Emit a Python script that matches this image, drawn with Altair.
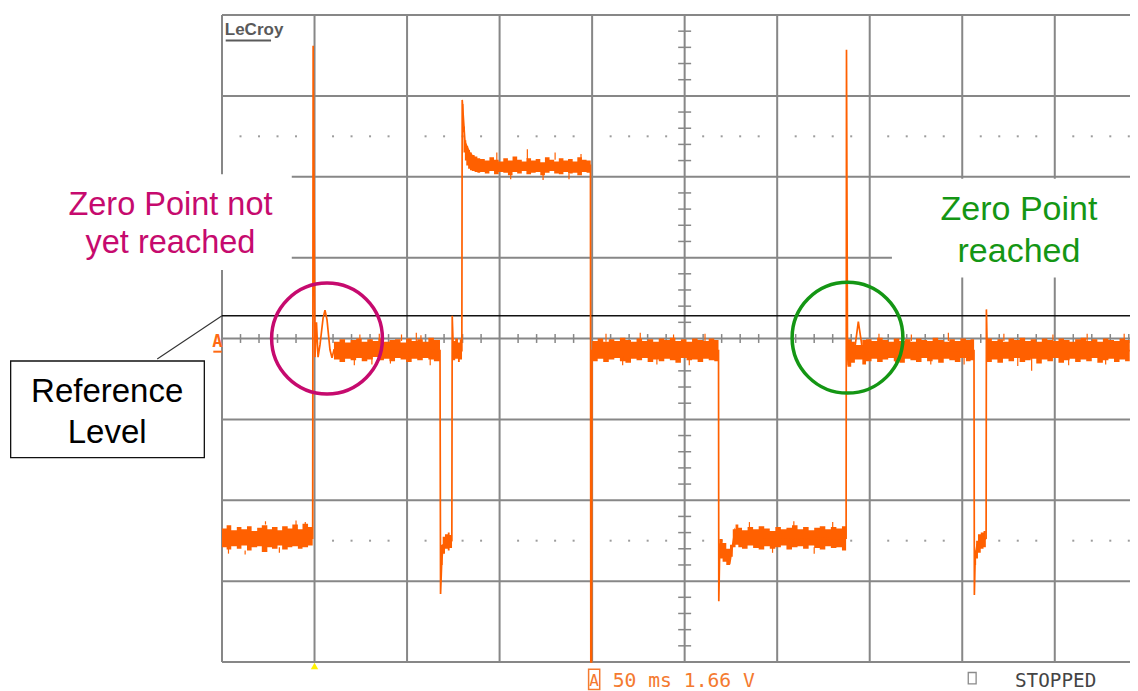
import altair as alt
import numpy as np
import pandas as pd

# ---------------- data (x: divisions of 50 ms, y: divisions of 1.66 V) ----------------
X_MAX = 9.813

# thin trace (edges, spikes, ringing)
TRACE_X = [0.00, 0.980, 0.985, 1.005, 1.021, 1.038, 1.059, 1.092, 1.113, 1.135, 1.167, 1.189, 1.21,
           2.356, 2.362, 2.375, 2.39, 2.484, 2.488, 2.50, 2.592, 2.596, 2.626, 2.68, 2.753, 2.82,
           3.982, 3.986, 3.994, 3.999, 5.366, 5.369, 5.38, 5.436, 5.49, 5.544, 5.598, 6.745, 6.749,
           6.76, 6.77, 6.80, 6.83, 6.877, 6.914, 6.947, 6.98, 8.127, 8.131, 8.14, 8.16, 8.258, 8.261,
           8.27, 9.81]
TRACE_Y = [-2.47, -2.47, 3.62, -0.23, 0.20, -0.23, -0.08, 0.25, 0.35, 0.23, -0.14, -0.24, -0.14,
           -0.15, -3.16, -2.75, -2.55, -2.50, 0.28, -0.15, -0.15, 2.95, 2.43, 2.29, 2.21, 2.14,
           2.14, -4.0, -4.0, -0.15, -0.15, -3.25, -2.55, -2.62, -2.76, -2.37, -2.49, -2.47, 3.57,
           -0.20, -0.33, -0.08, -0.20, 0.21, -0.08, -0.27, -0.14, -0.15, -3.17, -2.70, -2.55, -2.47,
           0.36, -0.15, -0.15]

# noisy bands (top / bottom envelope)
LOW1_X = [0.00, 0.05, 0.10, 0.16, 0.21, 0.27, 0.32, 0.38, 0.43, 0.49, 0.54, 0.60, 0.65, 0.71, 0.76, 0.82, 0.87, 0.93, 0.98]
LOW1_TOP = [-2.35, -2.31, -2.37, -2.33, -2.36, -2.32, -2.38, -2.34, -2.31, -2.36, -2.33, -2.37, -2.32, -2.35, -2.30, -2.36, -2.29, -2.33, -2.33]
LOW1_BOT = [-2.58, -2.61, -2.57, -2.60, -2.56, -2.62, -2.58, -2.57, -2.64, -2.58, -2.60, -2.56, -2.61, -2.58, -2.57, -2.60, -2.58, -2.56, -2.56]

ZERO1_X = [1.21, 1.27, 1.33, 1.39, 1.45, 1.51, 1.57, 1.63, 1.69, 1.75, 1.81, 1.87, 1.93, 1.99, 2.05, 2.11, 2.17, 2.23, 2.29, 2.356]
ZERO1_TOP = [-0.04, -0.01, -0.05, -0.02, 0.00, -0.04, -0.01, -0.03, 0.00, -0.04, -0.02, -0.01, -0.05, 0.00, -0.03, -0.01, -0.04, 0.01, -0.02, -0.02]
ZERO1_BOT = [-0.26, -0.29, -0.25, -0.27, -0.24, -0.28, -0.26, -0.23, -0.27, -0.25, -0.28, -0.24, -0.26, -0.29, -0.25, -0.27, -0.24, -0.26, -0.28, -0.28]

SLOW1_X = [2.367, 2.385, 2.41, 2.44, 2.46, 2.486]
SLOW1_TOP = [-2.55, -2.45, -2.42, -2.40, -2.43, -2.43]
SLOW1_BOT = [-2.80, -2.66, -2.60, -2.62, -2.59, -2.59]

SZERO1_X = [2.49, 2.52, 2.55, 2.57, 2.594]
SZERO1_TOP = [-0.03, 0.0, -0.05, -0.01, -0.01]
SZERO1_BOT = [-0.27, -0.25, -0.29, -0.26, -0.26]

HIGH_X = [2.597, 2.61, 2.625, 2.64, 2.66, 2.68, 2.70, 2.73, 2.76, 2.79, 2.84, 2.89, 2.94, 2.99, 3.04, 3.09, 3.14,
          3.19, 3.24, 3.29, 3.34, 3.39, 3.44, 3.49, 3.54, 3.59, 3.64, 3.69, 3.74, 3.79, 3.84, 3.89, 3.94, 3.985]
HIGH_TOP = [2.90, 2.62, 2.45, 2.38, 2.33, 2.30, 2.27, 2.25, 2.23, 2.22, 2.20, 2.24, 2.21, 2.19, 2.23, 2.20, 2.25,
            2.21, 2.19, 2.23, 2.20, 2.22, 2.18, 2.24, 2.21, 2.19, 2.23, 2.20, 2.22, 2.19, 2.24, 2.21, 2.20, 2.20]
HIGH_BOT = [2.55, 2.30, 2.20, 2.14, 2.10, 2.08, 2.07, 2.06, 2.05, 2.06, 2.04, 2.07, 2.03, 2.06, 2.05, 2.02, 2.06,
            2.04, 2.07, 2.03, 2.05, 2.06, 2.02, 2.05, 2.07, 2.04, 2.03, 2.06, 2.04, 2.05, 2.02, 2.06, 2.05, 2.05]

ZERO2_X = [4.00, 4.06, 4.12, 4.18, 4.24, 4.30, 4.36, 4.42, 4.48, 4.54, 4.60, 4.66, 4.72, 4.78, 4.84, 4.90, 4.96,
           5.02, 5.08, 5.14, 5.20, 5.26, 5.32, 5.366]
ZERO2_TOP = [-0.03, 0.00, -0.04, -0.01, -0.03, 0.01, -0.02, -0.04, 0.00, -0.03, -0.01, -0.04, 0.00, -0.02,
             0.01, -0.03, -0.01, -0.04, 0.00, -0.02, -0.03, 0.00, -0.02, -0.02]
ZERO2_BOT = [-0.28, -0.25, -0.29, -0.26, -0.24, -0.28, -0.30, -0.25, -0.27, -0.24, -0.29, -0.26, -0.28, -0.25,
             -0.27, -0.30, -0.24, -0.27, -0.26, -0.29, -0.25, -0.27, -0.28, -0.28]

LOW2_X = [5.375, 5.41, 5.45, 5.49, 5.52, 5.55, 5.58, 5.62, 5.68, 5.74, 5.80, 5.86, 5.92, 5.98, 6.04, 6.10, 6.16,
          6.22, 6.28, 6.34, 6.40, 6.46, 6.52, 6.58, 6.64, 6.70, 6.745]
LOW2_TOP = [-2.48, -2.53, -2.60, -2.55, -2.36, -2.30, -2.34, -2.37, -2.33, -2.36, -2.32, -2.35, -2.38, -2.33,
            -2.36, -2.34, -2.31, -2.36, -2.33, -2.37, -2.34, -2.32, -2.36, -2.33, -2.35, -2.32, -2.32]
LOW2_BOT = [-2.72, -2.76, -2.80, -2.70, -2.58, -2.55, -2.58, -2.60, -2.56, -2.59, -2.61, -2.57, -2.60, -2.58,
            -2.56, -2.61, -2.58, -2.57, -2.60, -2.56, -2.59, -2.61, -2.57, -2.59, -2.58, -2.62, -2.62]

ZERO3_X = [6.76, 6.80, 6.84, 6.92, 6.96, 7.02, 7.08, 7.14, 7.20, 7.26, 7.32, 7.38, 7.44, 7.50, 7.56, 7.62, 7.68,
           7.74, 7.80, 7.86, 7.92, 7.98, 8.04, 8.09, 8.128]
ZERO3_TOP = [-0.01, -0.04, -0.08, -0.02, -0.01, -0.03, 0.01, -0.02, -0.04, 0.00, -0.03, -0.01, -0.04, 0.00,
             -0.02, -0.03, 0.01, -0.02, -0.04, -0.01, -0.03, 0.00, -0.02, -0.01, -0.01]
ZERO3_BOT = [-0.35, -0.30, -0.26, -0.32, -0.28, -0.25, -0.29, -0.26, -0.24, -0.28, -0.30, -0.25, -0.27, -0.29,
             -0.24, -0.28, -0.26, -0.30, -0.25, -0.27, -0.29, -0.24, -0.28, -0.27, -0.27]

SLOW2_X = [8.135, 8.15, 8.17, 8.20, 8.23, 8.255]
SLOW2_TOP = [-2.62, -2.50, -2.42, -2.40, -2.38, -2.38]
SLOW2_BOT = [-2.80, -2.72, -2.65, -2.60, -2.58, -2.58]

ZERO4_X = [8.265, 8.32, 8.38, 8.44, 8.50, 8.56, 8.62, 8.68, 8.74, 8.80, 8.86, 8.92, 8.98, 9.04, 9.10, 9.16, 9.22,
           9.28, 9.34, 9.40, 9.46, 9.52, 9.58, 9.64, 9.70, 9.76, 9.81]
ZERO4_TOP = [0.00, -0.03, -0.01, -0.04, 0.00, -0.02, 0.01, -0.03, -0.01, -0.04, 0.00, -0.02, -0.03, 0.00,
             -0.02, -0.04, -0.01, 0.01, -0.03, -0.01, -0.04, 0.00, -0.02, -0.03, 0.00, -0.02, -0.02]
ZERO4_BOT = [-0.29, -0.26, -0.30, -0.25, -0.28, -0.24, -0.29, -0.27, -0.25, -0.31, -0.26, -0.28, -0.24, -0.30,
             -0.27, -0.25, -0.29, -0.26, -0.28, -0.24, -0.30, -0.27, -0.25, -0.29, -0.26, -0.28, -0.28]

# noise hairs sticking out of the bands
WHISK_X = [0.07, 0.25, 0.47, 0.62, 0.80, 0.90,
           1.43, 1.49, 1.62, 1.70, 1.82, 1.94, 2.10, 2.15, 2.25,
           2.97, 3.12, 3.30, 3.47, 3.60, 3.75, 3.88,
           4.15, 4.33, 4.52, 4.70, 4.88, 5.05, 5.22,
           5.70, 5.95, 6.18, 6.40, 6.60,
           7.10, 7.28, 7.45, 7.66, 7.85, 8.02,
           8.45, 8.60, 8.75, 8.98, 9.15, 9.35, 9.55, 9.75]
WHISK_Y1 = [-2.58, -2.62, -2.30, -2.58, -2.31, -2.33,
            -0.20, -0.04, -0.20, -0.04, -0.20, -0.03, -0.03, -0.04, -0.20,
            2.20, 2.04, 2.22, 2.03, 2.21, 2.04, 2.20,
            -0.04, -0.22, -0.03, -0.22, -0.04, -0.23, -0.03,
            -2.34, -2.58, -2.33, -2.58, -2.33,
            -0.04, -0.22, -0.03, -0.23, -0.03, -0.22,
            -0.03, -0.22, -0.24, -0.04, -0.23, -0.03, -0.22, -0.04]
WHISK_Y2 = [-2.66, -2.67, -2.26, -2.65, -2.25, -2.27,
            -0.33, 0.05, -0.32, 0.06, -0.31, 0.05, 0.07, 0.04, -0.33,
            2.30, 1.97, 2.34, 1.96, 2.30, 1.97, 2.28,
            0.06, -0.33, 0.07, -0.32, 0.05, -0.33, 0.06,
            -2.27, -2.65, -2.26, -2.66, -2.27,
            0.06, -0.33, 0.05, -0.32, 0.07, -0.32,
            0.06, -0.34, -0.40, 0.05, -0.33, 0.06, -0.32, 0.06]

# graticule
VGRID_X = [0, 1, 2, 3, 4, 5, 6, 7, 8, 9]
HGRID_Y = [-4, -3, -2, -1, 0, 1, 2, 3, 4]
DOT_ROWS_Y = [2.5, -2.5]

# annotations
REF_LEVEL_Y = 0.282
CIRCLE_X = [1.135, 6.76]
CIRCLE_Y = [0.0, 0.01]
CIRCLE_COL = ["#C60A6E", "#149614"]
TRIGGER_X = [1.0]

# ---------------- styles ----------------
ORANGE = "#FF6000"
GRID = "#878787"

xs = alt.Scale(domain=[0, X_MAX], nice=False, zero=False)
ys = alt.Scale(domain=[-4, 4], nice=False, zero=False)


def X(f="x"):
    return alt.X(f"{f}:Q", scale=xs, axis=None)


def Y(f="y"):
    return alt.Y(f"{f}:Q", scale=ys, axis=None)


# ---------------- tables ----------------
segments = [("low1", LOW1_X, LOW1_TOP, LOW1_BOT), ("zero1", ZERO1_X, ZERO1_TOP, ZERO1_BOT),
            ("slow1", SLOW1_X, SLOW1_TOP, SLOW1_BOT), ("szero1", SZERO1_X, SZERO1_TOP, SZERO1_BOT),
            ("high", HIGH_X, HIGH_TOP, HIGH_BOT), ("zero2", ZERO2_X, ZERO2_TOP, ZERO2_BOT),
            ("low2", LOW2_X, LOW2_TOP, LOW2_BOT), ("zero3", ZERO3_X, ZERO3_TOP, ZERO3_BOT),
            ("slow2", SLOW2_X, SLOW2_TOP, SLOW2_BOT), ("zero4", ZERO4_X, ZERO4_TOP, ZERO4_BOT)]
band_rows = []
for name, bx, bt, bb in segments:
    for a, t, b in zip(bx, bt, bb):
        band_rows.append({"seg": name, "x": a, "y": t, "y2": b})
band_df = pd.DataFrame(band_rows)

trace_df = pd.DataFrame({"x": TRACE_X, "y": TRACE_Y, "i": range(len(TRACE_X))})
whisk_df = pd.DataFrame({"x": WHISK_X, "y": WHISK_Y1, "y2": WHISK_Y2})

vgrid_df = pd.DataFrame({"x": VGRID_X, "y": -4.0, "y2": 4.0})
hgrid_df = pd.DataFrame({"y": HGRID_Y, "x": 0.0, "x2": X_MAX})

steps = np.round(np.arange(0.2, X_MAX, 0.2), 2)
steps = [s for s in steps if abs(s - round(s)) > 1e-6]
dots_df = pd.DataFrame([{"x": s, "y": r} for r in DOT_ROWS_Y for s in steps])
htick_df = pd.DataFrame({"x": steps, "y": -0.055, "y2": 0.055})
vsteps = np.round(np.arange(-3.8, 4.0, 0.2), 2)
vsteps = [s for s in vsteps if abs(s - round(s)) > 1e-6]
vtick_df = pd.DataFrame({"y": vsteps, "x": 5 - 0.07, "x2": 5 + 0.07})

# ---------------- layers ----------------
vgrid = alt.Chart(vgrid_df).mark_rule(color=GRID, strokeWidth=2).encode(x=X(), y=Y(), y2="y2:Q")
hgrid = alt.Chart(hgrid_df).mark_rule(color=GRID, strokeWidth=2).encode(x=X(), x2="x2:Q", y=Y())
dots = alt.Chart(dots_df).mark_square(size=4, color="#9c9c9c", opacity=1).encode(x=X(), y=Y())
hticks = alt.Chart(htick_df).mark_rule(color=GRID, strokeWidth=1.5).encode(x=X(), y=Y(), y2="y2:Q")
vticks = alt.Chart(vtick_df).mark_rule(color=GRID, strokeWidth=1.5).encode(x=X(), x2="x2:Q", y=Y())

boxes_df = pd.DataFrame({"x": [-2.4, 7.24], "x2": [0.754, X_MAX], "y": [0.847, 0.755], "y2": [2.03, 1.975]})
white_boxes = alt.Chart(boxes_df).mark_rect(color="white").encode(x=X(), x2="x2:Q", y=Y(), y2="y2:Q")

ref_df = pd.DataFrame({"x": [0.0], "x2": [X_MAX], "y": [REF_LEVEL_Y]})
ref_line = alt.Chart(ref_df).mark_rule(color="#111111", strokeWidth=1.4).encode(x=X(), x2="x2:Q", y=Y())
diag_df = pd.DataFrame({"x": [-0.70, 0.0], "y": [-0.253, REF_LEVEL_Y], "i": [0, 1]})
diag = alt.Chart(diag_df).mark_line(color="#333333", strokeWidth=1.1).encode(x=X(), y=Y(), order="i:Q")

refbox_df = pd.DataFrame({"x": [-2.284], "x2": [-0.191], "y": [-0.278], "y2": [-1.474]})
refbox = alt.Chart(refbox_df).mark_rect(fill="white", stroke="#111111", strokeWidth=1.3).encode(
    x=X(), x2="x2:Q", y=Y(), y2="y2:Q")

bands = alt.Chart(band_df).mark_area(color=ORANGE, interpolate="step-after", opacity=1).encode(
    x=X(), y=Y(), y2="y2:Q", detail="seg:N")
whisk = alt.Chart(whisk_df).mark_rule(color=ORANGE, strokeWidth=1.2).encode(x=X(), y=Y(), y2="y2:Q")
trace = alt.Chart(trace_df).mark_line(color=ORANGE, strokeWidth=1.7).encode(x=X(), y=Y(), order="i:Q")

circ_df = pd.DataFrame({"x": CIRCLE_X, "y": CIRCLE_Y, "c": CIRCLE_COL})
circles = alt.Chart(circ_df).mark_point(shape="circle", filled=False, size=12272, strokeWidth=3.5,
                                        opacity=1).encode(
    x=X(), y=Y(), color=alt.Color("c:N", scale=None))

trig_df = pd.DataFrame({"x": TRIGGER_X, "y": [-4.05]})
trig = alt.Chart(trig_df).mark_point(shape="triangle-up", filled=True, size=55, color="#FFF200",
                                     opacity=1).encode(x=X(), y=Y())


def text_layer(xv, yv, texts, **kw):
    df = pd.DataFrame({"x": xv, "y": yv, "t": texts})
    return alt.Chart(df).mark_text(baseline="alphabetic", **kw).encode(x=X(), y=Y(), text="t:N")


t_ref = text_layer([-1.241, -1.241], [-0.781, -1.288], ["Reference", "Level"],
                   font="Liberation Sans", fontSize=33, color="#000000", align="center")
t_mag = text_layer([-0.557, -0.557], [1.527, 1.053], ["Zero Point not", "yet reached"],
                   font="Liberation Sans", fontSize=32.5, color="#C60A6E", align="center")
t_grn = text_layer([8.613, 8.613], [1.465, 0.950], ["Zero Point", "reached"],
                   font="Liberation Sans", fontSize=34, color="#149614", align="center")
t_logo = text_layer([0.03], [3.753], ["LeCroy"], font="Liberation Sans", fontSize=17,
                    fontWeight="bold", color="#5a5a5a", align="left")
logo_ul_df = pd.DataFrame({"x": [0.04], "x2": [0.53], "y": [3.685]})
logo_ul = alt.Chart(logo_ul_df).mark_rule(color="#5a5a5a", strokeWidth=2).encode(x=X(), x2="x2:Q", y=Y())

t_chA = text_layer([-0.049], [-0.10], ["A"], font="DejaVu Sans Mono", fontSize=17, fontWeight="bold",
                   color="#FF6A13", align="center")
chA_ul_df = pd.DataFrame({"x": [-0.094], "x2": [-0.003], "y": [-0.163]})
chA_ul = alt.Chart(chA_ul_df).mark_rule(color="#FF6A13", strokeWidth=2).encode(x=X(), x2="x2:Q", y=Y())

iconA_df = pd.DataFrame({"x": [3.962], "x2": [4.082], "y": [-4.09], "y2": [-4.34]})
iconA = alt.Chart(iconA_df).mark_rect(fill="white", stroke="#F47A30", strokeWidth=1.5).encode(
    x=X(), x2="x2:Q", y=Y(), y2="y2:Q")
t_iconA = text_layer([4.022], [-4.30], ["A"], font="DejaVu Sans Mono", fontSize=16,
                     color="#F47A30", align="center")
t_status = text_layer([4.222], [-4.305], ["50 ms 1.66 V"], font="DejaVu Sans Mono", fontSize=19.7,
                      color="#F47A30", align="left")
stop_df = pd.DataFrame({"x": [8.065], "x2": [8.15], "y": [-4.13], "y2": [-4.27]})
stop_box = alt.Chart(stop_df).mark_rect(fill="white", stroke="#8a8a8a", strokeWidth=1.3).encode(
    x=X(), x2="x2:Q", y=Y(), y2="y2:Q")
t_stop = text_layer([8.57], [-4.305], ["STOPPED"], font="DejaVu Sans Mono", fontSize=19.3,
                    color="#444444", align="left")

chart = alt.layer(
    vgrid, hgrid, dots, hticks, vticks, white_boxes, ref_line, diag, refbox,
    bands, whisk, trace, circles, trig,
    t_ref, t_mag, t_grn, t_logo, logo_ul, t_chA, chA_ul, iconA, t_iconA, t_status, stop_box, t_stop,
).properties(
    width=908, height=647,
    autosize=alt.AutoSizeParams(type="none"),
    padding={"left": 214, "top": 7, "right": 0, "bottom": 29},
    background="white",
).configure_view(stroke=None)

chart.save("out.html", embed_options={"renderer": "svg", "actions": False})
